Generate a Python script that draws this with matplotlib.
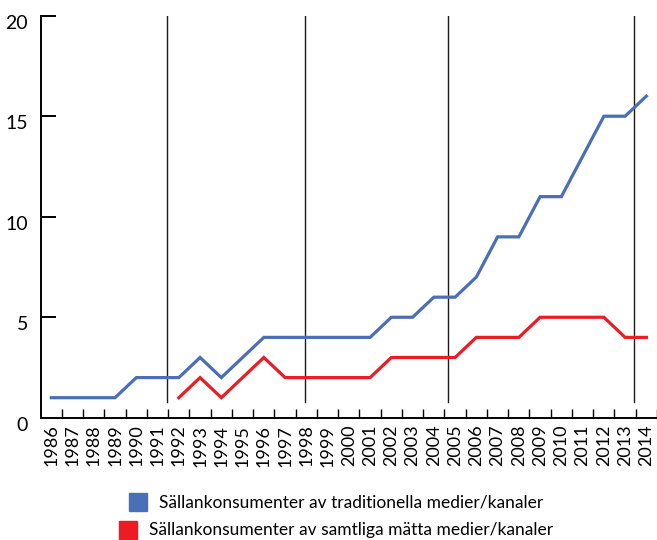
import matplotlib.pyplot as plt
import matplotlib.transforms as mtransforms
from matplotlib.patches import Rectangle

# Data
years = list(range(1986, 2015))
traditionella = [1, 1, 1, 1, 2, 2, 2, 3, 2, 3, 4, 4, 4, 4, 4, 4, 5, 5, 6, 6,
                 7, 9, 9, 11, 11, 13, 15, 15, 16]
samtliga_years = list(range(1992, 2015))
samtliga = [1, 2, 1, 2, 3, 2, 2, 2, 2, 2, 3, 3, 3, 3, 4, 4, 4, 5, 5, 5, 5, 4, 4]
# vertical marker lines (in category units, 0 = 1986)
markers = [5.45, 11.92, 18.65, 27.4]

label_blue = 'Sällankonsumenter av traditionella medier/kanaler'
label_red = 'Sällankonsumenter av samtliga mätta medier/kanaler'

blue = '#4a6fb7'
red = '#ec1c24'

plt.rcParams['font.family'] = ['Lato', 'DejaVu Sans']

fig = plt.figure(figsize=(6.57, 5.40), dpi=100)
ax = fig.add_axes([40.7 / 657, 1 - 417.8 / 540, 1 - 40.7 / 657, (417.8 - 15.7) / 540])

x_blue = [y - years[0] for y in years]
x_red = [y - years[0] for y in samtliga_years]

ax.plot(x_blue, traditionella, color=blue, lw=2.3, solid_joinstyle='miter', zorder=3)
ax.plot(x_red, samtliga, color=red, lw=2.3, solid_joinstyle='miter', zorder=3)

for m in markers:
    ax.axvline(m, ymin=0.8 / 20, ymax=1, color='#1a1a1a', lw=1.0, zorder=2)

ax.set_xlim(-0.5, 28.45)
ax.set_ylim(0, 20)

ax.spines['top'].set_visible(False)
ax.spines['right'].set_visible(False)
ax.spines['left'].set_linewidth(1.4)
ax.spines['bottom'].set_linewidth(1.4)

ax.set_yticks([0, 5, 10, 15, 20])
ax.tick_params(axis='y', direction='in', length=11, width=1.4, pad=9, labelsize=14)
ax.yaxis.get_major_ticks()[0].tick1line.set_visible(False)
# labels sit a little below their ticks in the original
shift = mtransforms.ScaledTranslation(0, -6 / 100, fig.dpi_scale_trans)
for lbl in ax.get_yticklabels():
    lbl.set_transform(lbl.get_transform() + shift)

ax.set_xticks(x_blue)
ax.set_xticklabels([str(y) for y in years], rotation=90, fontsize=13)
ax.tick_params(axis='x', which='major', length=0, pad=5)
ax.set_xticks([i + 0.5 for i in range(len(years))], minor=True)
ax.tick_params(axis='x', which='minor', direction='in', length=6.5, width=1.0)

# legend, each row centred on its own
rows = [(label_blue, blue, 502), (label_red, red, 530)]
for text, col, ypx in rows:
    t = fig.text(0.535, 1 - ypx / 540, text, ha='center', va='center', fontsize=12.5)
    fig.canvas.draw()
    bb = t.get_window_extent()
    x0 = bb.x0 - 30
    fig.patches.append(Rectangle((x0 / 657, 1 - (ypx + 9) / 540), 18 / 657, 18 / 540,
                                 transform=fig.transFigure, color=col, figure=fig))

fig.savefig('out.png', dpi=100)
